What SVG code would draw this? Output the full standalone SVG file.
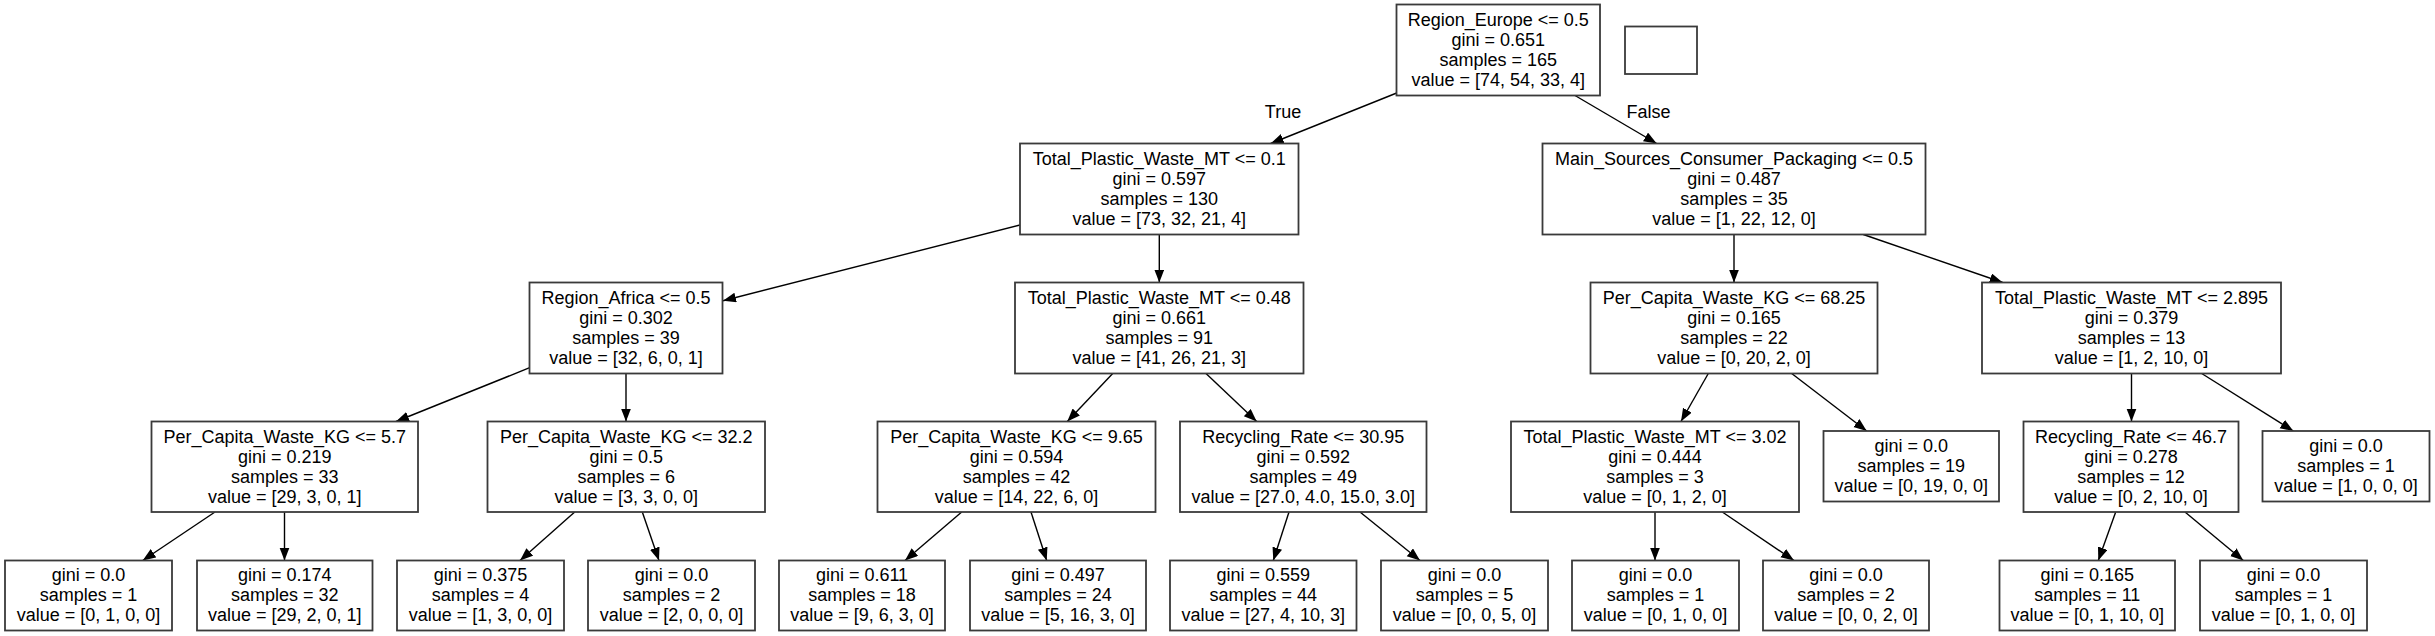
<svg xmlns="http://www.w3.org/2000/svg" width="2435" height="636" viewBox="0 0 2435 636">
<defs>
<style>
.box{fill:#fff;stroke:#3a3a3a;stroke-width:1.8}
.t{font-family:"Liberation Sans",Arial,sans-serif;font-size:18px;fill:#000;text-anchor:middle}
.e{stroke:#000;stroke-width:1.4;fill:none;marker-end:url(#ah)}
</style>
<marker id="ah" markerUnits="userSpaceOnUse" markerWidth="14" markerHeight="11" refX="13" refY="5" orient="auto">
<path d="M0,0 L13,5 L0,10 Z" fill="#000"/>
</marker>
</defs>
<rect width="2435" height="636" fill="#fff"/>
<g id="connectors">
<line class="e" x1="1396.7" y1="93" x2="1270.7" y2="143.5"/>
<line class="e" x1="1575" y1="95.5" x2="1656.7" y2="143.5"/>
<line class="e" x1="1020" y1="225" x2="723" y2="300.7"/>
<line class="e" x1="1159.3" y1="234.5" x2="1159.3" y2="282.5"/>
<line class="e" x1="1734" y1="234.5" x2="1734" y2="282.5"/>
<line class="e" x1="1863.3" y1="234.5" x2="2002.7" y2="282.5"/>
<line class="e" x1="529.7" y1="367.7" x2="396" y2="421.5"/>
<line class="e" x1="626" y1="373.5" x2="626" y2="421.5"/>
<line class="e" x1="1112.7" y1="373.5" x2="1067.3" y2="421.5"/>
<line class="e" x1="1206" y1="373.5" x2="1256.7" y2="421.5"/>
<line class="e" x1="1708.3" y1="373.5" x2="1681" y2="421.5"/>
<line class="e" x1="1791.7" y1="373.5" x2="1866.7" y2="431"/>
<line class="e" x1="2131.5" y1="373.5" x2="2131.5" y2="421.5"/>
<line class="e" x1="2201.7" y1="373.5" x2="2293.3" y2="431"/>
<line class="e" x1="215" y1="512" x2="142.7" y2="560.5"/>
<line class="e" x1="284.5" y1="512" x2="284.5" y2="560.5"/>
<line class="e" x1="574.7" y1="512" x2="520" y2="560.5"/>
<line class="e" x1="642.3" y1="512" x2="659" y2="560.5"/>
<line class="e" x1="961.7" y1="512" x2="905" y2="560.5"/>
<line class="e" x1="1031" y1="512" x2="1046.7" y2="560.5"/>
<line class="e" x1="1289" y1="512" x2="1273.3" y2="560.5"/>
<line class="e" x1="1360" y1="512" x2="1420" y2="560.5"/>
<line class="e" x1="1655" y1="512" x2="1655" y2="560.5"/>
<line class="e" x1="1722.3" y1="512" x2="1794" y2="560.5"/>
<line class="e" x1="2115.7" y1="512" x2="2098.3" y2="560.5"/>
<line class="e" x1="2185" y1="512" x2="2243.3" y2="560.5"/>
<text class="t" x="1283" y="118">True</text>
<text class="t" x="1648.5" y="117.5">False</text>
</g>
<g id="root"><rect class="box" x="1396.5" y="4.5" width="203.5" height="91"/>
<text class="t" x="1498.25" y="25.5">Region_Europe &lt;= 0.5</text><text class="t" x="1498.25" y="45.5">gini = 0.651</text><text class="t" x="1498.25" y="65.5">samples = 165</text><text class="t" x="1498.25" y="85.5">value = [74, 54, 33, 4]</text></g>
<g id="legend"><rect class="box" x="1625" y="26.5" width="72" height="47.5"/></g>
<g id="n1"><rect class="box" x="1020" y="143.5" width="278.5" height="91"/>
<text class="t" x="1159.25" y="164.5">Total_Plastic_Waste_MT &lt;= 0.1</text><text class="t" x="1159.25" y="184.5">gini = 0.597</text><text class="t" x="1159.25" y="204.5">samples = 130</text><text class="t" x="1159.25" y="224.5">value = [73, 32, 21, 4]</text></g>
<g id="n2"><rect class="box" x="1542.5" y="143.5" width="383" height="91"/>
<text class="t" x="1734" y="164.5">Main_Sources_Consumer_Packaging &lt;= 0.5</text><text class="t" x="1734" y="184.5">gini = 0.487</text><text class="t" x="1734" y="204.5">samples = 35</text><text class="t" x="1734" y="224.5">value = [1, 22, 12, 0]</text></g>
<g id="n3"><rect class="box" x="529.5" y="282.5" width="193" height="91"/>
<text class="t" x="626" y="303.5">Region_Africa &lt;= 0.5</text><text class="t" x="626" y="323.5">gini = 0.302</text><text class="t" x="626" y="343.5">samples = 39</text><text class="t" x="626" y="363.5">value = [32, 6, 0, 1]</text></g>
<g id="n4"><rect class="box" x="1015" y="282.5" width="288.5" height="91"/>
<text class="t" x="1159.25" y="303.5">Total_Plastic_Waste_MT &lt;= 0.48</text><text class="t" x="1159.25" y="323.5">gini = 0.661</text><text class="t" x="1159.25" y="343.5">samples = 91</text><text class="t" x="1159.25" y="363.5">value = [41, 26, 21, 3]</text></g>
<g id="n5"><rect class="box" x="1590.5" y="282.5" width="287" height="91"/>
<text class="t" x="1734" y="303.5">Per_Capita_Waste_KG &lt;= 68.25</text><text class="t" x="1734" y="323.5">gini = 0.165</text><text class="t" x="1734" y="343.5">samples = 22</text><text class="t" x="1734" y="363.5">value = [0, 20, 2, 0]</text></g>
<g id="n6"><rect class="box" x="1982" y="282.5" width="299" height="91"/>
<text class="t" x="2131.5" y="303.5">Total_Plastic_Waste_MT &lt;= 2.895</text><text class="t" x="2131.5" y="323.5">gini = 0.379</text><text class="t" x="2131.5" y="343.5">samples = 13</text><text class="t" x="2131.5" y="363.5">value = [1, 2, 10, 0]</text></g>
<g id="n7"><rect class="box" x="151.5" y="421.5" width="266.5" height="90.5"/>
<text class="t" x="284.75" y="442.5">Per_Capita_Waste_KG &lt;= 5.7</text><text class="t" x="284.75" y="462.5">gini = 0.219</text><text class="t" x="284.75" y="482.5">samples = 33</text><text class="t" x="284.75" y="502.5">value = [29, 3, 0, 1]</text></g>
<g id="n8"><rect class="box" x="487.5" y="421.5" width="277.5" height="90.5"/>
<text class="t" x="626.25" y="442.5">Per_Capita_Waste_KG &lt;= 32.2</text><text class="t" x="626.25" y="462.5">gini = 0.5</text><text class="t" x="626.25" y="482.5">samples = 6</text><text class="t" x="626.25" y="502.5">value = [3, 3, 0, 0]</text></g>
<g id="n9"><rect class="box" x="877.5" y="421.5" width="278" height="90.5"/>
<text class="t" x="1016.5" y="442.5">Per_Capita_Waste_KG &lt;= 9.65</text><text class="t" x="1016.5" y="462.5">gini = 0.594</text><text class="t" x="1016.5" y="482.5">samples = 42</text><text class="t" x="1016.5" y="502.5">value = [14, 22, 6, 0]</text></g>
<g id="n10"><rect class="box" x="1180" y="421.5" width="246.5" height="90.5"/>
<text class="t" x="1303.25" y="442.5">Recycling_Rate &lt;= 30.95</text><text class="t" x="1303.25" y="462.5">gini = 0.592</text><text class="t" x="1303.25" y="482.5">samples = 49</text><text class="t" x="1303.25" y="502.5">value = [27.0, 4.0, 15.0, 3.0]</text></g>
<g id="n11"><rect class="box" x="1511" y="421.5" width="288" height="90.5"/>
<text class="t" x="1655" y="442.5">Total_Plastic_Waste_MT &lt;= 3.02</text><text class="t" x="1655" y="462.5">gini = 0.444</text><text class="t" x="1655" y="482.5">samples = 3</text><text class="t" x="1655" y="502.5">value = [0, 1, 2, 0]</text></g>
<g id="n12"><rect class="box" x="1823.5" y="431" width="175.5" height="70.5"/>
<text class="t" x="1911.25" y="452">gini = 0.0</text><text class="t" x="1911.25" y="472">samples = 19</text><text class="t" x="1911.25" y="492">value = [0, 19, 0, 0]</text></g>
<g id="n13"><rect class="box" x="2023.5" y="421.5" width="215" height="90.5"/>
<text class="t" x="2131" y="442.5">Recycling_Rate &lt;= 46.7</text><text class="t" x="2131" y="462.5">gini = 0.278</text><text class="t" x="2131" y="482.5">samples = 12</text><text class="t" x="2131" y="502.5">value = [0, 2, 10, 0]</text></g>
<g id="n14"><rect class="box" x="2262.5" y="431" width="167" height="70.5"/>
<text class="t" x="2346" y="452">gini = 0.0</text><text class="t" x="2346" y="472">samples = 1</text><text class="t" x="2346" y="492">value = [1, 0, 0, 0]</text></g>
<g id="L1"><rect class="box" x="5" y="560.5" width="167" height="70"/>
<text class="t" x="88.5" y="581">gini = 0.0</text><text class="t" x="88.5" y="601">samples = 1</text><text class="t" x="88.5" y="621">value = [0, 1, 0, 0]</text></g>
<g id="L2"><rect class="box" x="197" y="560.5" width="175.5" height="70"/>
<text class="t" x="284.75" y="581">gini = 0.174</text><text class="t" x="284.75" y="601">samples = 32</text><text class="t" x="284.75" y="621">value = [29, 2, 0, 1]</text></g>
<g id="L3"><rect class="box" x="397" y="560.5" width="167" height="70"/>
<text class="t" x="480.5" y="581">gini = 0.375</text><text class="t" x="480.5" y="601">samples = 4</text><text class="t" x="480.5" y="621">value = [1, 3, 0, 0]</text></g>
<g id="L4"><rect class="box" x="588" y="560.5" width="167" height="70"/>
<text class="t" x="671.5" y="581">gini = 0.0</text><text class="t" x="671.5" y="601">samples = 2</text><text class="t" x="671.5" y="621">value = [2, 0, 0, 0]</text></g>
<g id="L5"><rect class="box" x="779" y="560.5" width="166" height="70"/>
<text class="t" x="862" y="581">gini = 0.611</text><text class="t" x="862" y="601">samples = 18</text><text class="t" x="862" y="621">value = [9, 6, 3, 0]</text></g>
<g id="L6"><rect class="box" x="970" y="560.5" width="176" height="70"/>
<text class="t" x="1058" y="581">gini = 0.497</text><text class="t" x="1058" y="601">samples = 24</text><text class="t" x="1058" y="621">value = [5, 16, 3, 0]</text></g>
<g id="L7"><rect class="box" x="1170" y="560.5" width="186.5" height="70"/>
<text class="t" x="1263.25" y="581">gini = 0.559</text><text class="t" x="1263.25" y="601">samples = 44</text><text class="t" x="1263.25" y="621">value = [27, 4, 10, 3]</text></g>
<g id="L8"><rect class="box" x="1381" y="560.5" width="167" height="70"/>
<text class="t" x="1464.5" y="581">gini = 0.0</text><text class="t" x="1464.5" y="601">samples = 5</text><text class="t" x="1464.5" y="621">value = [0, 0, 5, 0]</text></g>
<g id="L9"><rect class="box" x="1572" y="560.5" width="167" height="70"/>
<text class="t" x="1655.5" y="581">gini = 0.0</text><text class="t" x="1655.5" y="601">samples = 1</text><text class="t" x="1655.5" y="621">value = [0, 1, 0, 0]</text></g>
<g id="L10"><rect class="box" x="1763" y="560.5" width="166" height="70"/>
<text class="t" x="1846" y="581">gini = 0.0</text><text class="t" x="1846" y="601">samples = 2</text><text class="t" x="1846" y="621">value = [0, 0, 2, 0]</text></g>
<g id="L11"><rect class="box" x="1999.5" y="560.5" width="175.5" height="70"/>
<text class="t" x="2087.25" y="581">gini = 0.165</text><text class="t" x="2087.25" y="601">samples = 11</text><text class="t" x="2087.25" y="621">value = [0, 1, 10, 0]</text></g>
<g id="L12"><rect class="box" x="2200" y="560.5" width="167" height="70"/>
<text class="t" x="2283.5" y="581">gini = 0.0</text><text class="t" x="2283.5" y="601">samples = 1</text><text class="t" x="2283.5" y="621">value = [0, 1, 0, 0]</text></g>
</svg>
